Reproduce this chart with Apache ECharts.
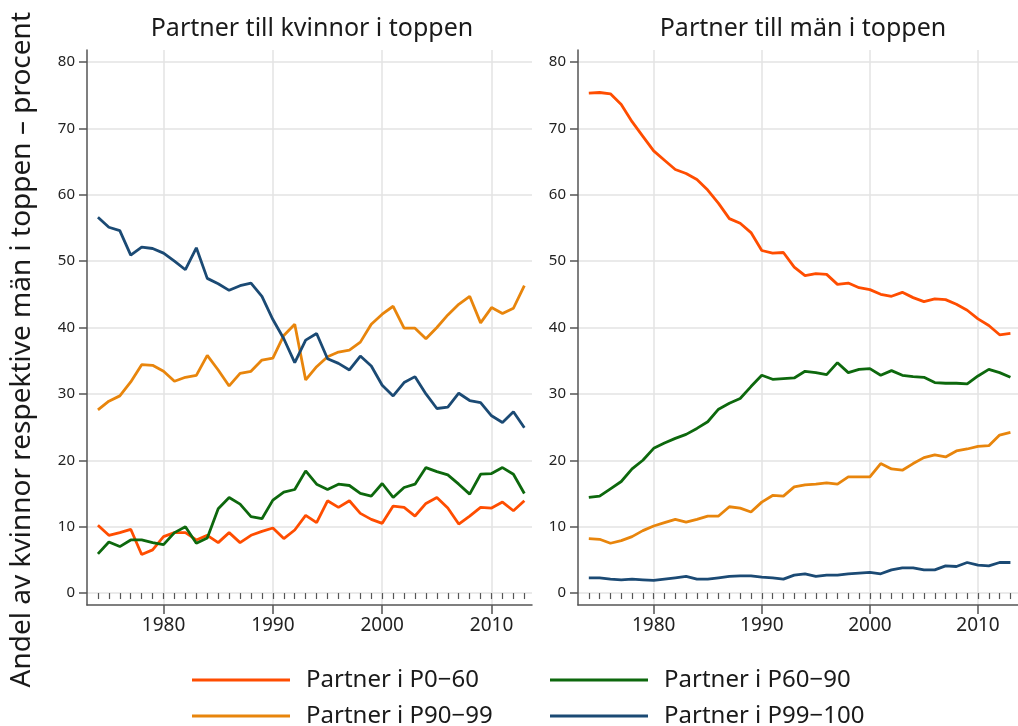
<!DOCTYPE html>
<html>
<head>
<meta charset="utf-8">
<script src="https://cdn.jsdelivr.net/npm/echarts@6/dist/echarts.min.js"></script>
<style>
  html, body { margin: 0; padding: 0; background: #fff; }
  #chart { width: 1018px; height: 726px; }
</style>
</head>
<body>
<div id="chart"></div>
<script>
// years
var years = [1974, 1975, 1976, 1977, 1978, 1979, 1980, 1981, 1982, 1983,
	1984, 1985, 1986, 1987, 1988, 1989, 1990, 1991, 1992, 1993,
	1994, 1995, 1996, 1997, 1998, 1999, 2000, 2001, 2002, 2003,
	2004, 2005, 2006, 2007, 2008, 2009, 2010, 2011, 2012, 2013];

var yTicks = [0, 10, 20, 30, 40, 50, 60, 70, 80];
var xLabels = [1980, 1990, 2000, 2010];

var seriesNames = ['Partner i P0\u221260', 'Partner i P60\u221290', 'Partner i P90\u221299', 'Partner i P99\u2212100'];
var colors = ['#ff4d00', '#0d680d', '#e8850c', '#1b4a74'];
var titles = ['Partner till kvinnor i toppen', 'Partner till m\u00e4n i toppen'];

// Partner till kvinnor i toppen
var womenP0_60 = [10.2, 8.7, 9.1, 9.6, 5.8, 6.5, 8.5, 9.1, 9.1, 8.0,
	8.7, 7.6, 9.1, 7.6, 8.7, 9.3, 9.8, 8.2, 9.5, 11.7,
	10.6, 13.9, 12.9, 13.9, 12.0, 11.1, 10.5, 13.1, 12.9, 11.6,
	13.5, 14.4, 12.8, 10.4, 11.6, 12.9, 12.8, 13.7, 12.4, 13.9];
var womenP60_90 = [5.9, 7.7, 7.0, 8.0, 8.0, 7.6, 7.3, 9.1, 10.0, 7.5,
	8.3, 12.7, 14.4, 13.4, 11.5, 11.2, 14.0, 15.2, 15.6, 18.4,
	16.4, 15.6, 16.4, 16.2, 15.0, 14.6, 16.5, 14.4, 15.9, 16.4,
	18.9, 18.3, 17.8, 16.4, 14.9, 17.9, 18.0, 18.9, 17.9, 15.0];
var womenP90_99 = [27.6, 28.9, 29.7, 31.8, 34.4, 34.3, 33.4, 31.9, 32.5, 32.8,
	35.8, 33.6, 31.2, 33.1, 33.4, 35.1, 35.4, 38.8, 40.5, 32.1,
	34.1, 35.6, 36.3, 36.6, 37.8, 40.5, 42.0, 43.2, 39.9, 39.9,
	38.3, 40.0, 41.9, 43.5, 44.7, 40.7, 43.0, 42.1, 42.9, 46.3];
var womenP99_100 = [56.6, 55.1, 54.6, 50.9, 52.1, 51.9, 51.2, 50.0, 48.7, 52.0,
	47.4, 46.6, 45.6, 46.3, 46.7, 44.7, 41.2, 38.3, 34.7, 38.1,
	39.1, 35.3, 34.6, 33.6, 35.7, 34.2, 31.3, 29.7, 31.7, 32.6,
	30.0, 27.8, 28.0, 30.1, 29.0, 28.7, 26.7, 25.7, 27.3, 24.9];

// Partner till män i toppen
var menP0_60 = [75.3, 75.4, 75.2, 73.6, 71.0, 68.8, 66.6, 65.2, 63.8, 63.2,
	62.3, 60.7, 58.7, 56.4, 55.7, 54.3, 51.6, 51.2, 51.3, 49.1,
	47.8, 48.1, 48.0, 46.5, 46.7, 46.0, 45.7, 45.0, 44.7, 45.3,
	44.5, 43.9, 44.3, 44.2, 43.5, 42.6, 41.3, 40.3, 38.9, 39.1];
var menP60_90 = [14.4, 14.6, 15.7, 16.8, 18.7, 20.0, 21.8, 22.6, 23.3, 23.9,
	24.8, 25.8, 27.7, 28.6, 29.3, 31.1, 32.8, 32.2, 32.3, 32.4,
	33.4, 33.2, 32.9, 34.7, 33.2, 33.7, 33.8, 32.8, 33.5, 32.8,
	32.6, 32.5, 31.7, 31.6, 31.6, 31.5, 32.7, 33.7, 33.2, 32.5];
var menP90_99 = [8.2, 8.1, 7.5, 7.9, 8.5, 9.4, 10.1, 10.6, 11.1, 10.7,
	11.1, 11.6, 11.6, 13.0, 12.8, 12.2, 13.7, 14.7, 14.6, 16.0,
	16.3, 16.4, 16.6, 16.4, 17.5, 17.5, 17.5, 19.5, 18.7, 18.5,
	19.5, 20.4, 20.8, 20.5, 21.4, 21.7, 22.1, 22.2, 23.8, 24.2];
var menP99_100 = [2.3, 2.3, 2.1, 2.0, 2.1, 2.0, 1.9, 2.1, 2.3, 2.5,
	2.1, 2.1, 2.3, 2.5, 2.6, 2.6, 2.4, 2.3, 2.1, 2.7,
	2.9, 2.5, 2.7, 2.7, 2.9, 3.0, 3.1, 2.9, 3.5, 3.8,
	3.8, 3.5, 3.5, 4.1, 4.0, 4.6, 4.2, 4.1, 4.6, 4.6];

var panels = [
	[womenP0_60, womenP60_90, womenP90_99, womenP99_100],
	[menP0_60, menP60_90, menP90_99, menP99_100]
];

var FONT = 'Noto Sans';
var chart = echarts.init(document.getElementById('chart'), null, {renderer: 'canvas'});

function pairs(values) {
	return years.map(function (y, i) { return [y, values[i]]; });
}

var grids = [
	{left: 87, top: 50, width: 445, height: 555},
	{left: 578, top: 50, width: 445, height: 555}
];

var xAxes = [], yAxes = [], series = [], titleList = [];
grids.forEach(function (g, gi) {
	xAxes.push({
		gridIndex: gi, type: 'value', min: 1973, max: 2013.7,
		axisLine: {show: true, onZero: false, lineStyle: {color: '#555', width: 1.5}},
		axisTick: {show: true, length: 9, customValues: xLabels, lineStyle: {color: '#555', width: 1.5}},
		axisLabel: {
			customValues: xLabels, fontFamily: FONT, fontSize: 19, color: '#222', margin: 11,
			formatter: function (v) { return String(v); }
		},
		splitLine: {show: true, lineStyle: {color: '#e3e3e3', width: 1.5}}
	});
	xAxes.push({
		gridIndex: gi, type: 'value', min: 1973, max: 2013.7, position: 'bottom',
		axisLine: {show: false},
		axisTick: {show: true, length: 6, customValues: years, lineStyle: {color: '#555', width: 1.2}},
		axisLabel: {show: false},
		splitLine: {show: false}
	});
	yAxes.push({
		gridIndex: gi, type: 'value', min: -1.8, max: 81.8,
		axisLine: {show: true, onZero: false, lineStyle: {color: '#555', width: 1.5}},
		axisTick: {show: true, length: 8, customValues: yTicks, lineStyle: {color: '#555', width: 1.5}},
		axisLabel: {customValues: yTicks, fontFamily: FONT, fontSize: 15, color: '#222', margin: 12},
		splitLine: {show: true, lineStyle: {color: '#e3e3e3', width: 1.5}}
	});
	panels[gi].forEach(function (vals, si) {
		series.push({
			name: seriesNames[si],
			type: 'line',
			xAxisIndex: gi * 2,
			yAxisIndex: gi,
			data: pairs(vals),
			symbol: 'none',
			color: colors[si],
			lineStyle: {width: 2.8, color: colors[si]},
			animation: false,
			z: 3
		});
	});
	titleList.push({
		text: titles[gi],
		left: g.left + 220,
		top: 11,
		textAlign: 'center',
		textStyle: {fontFamily: FONT, fontSize: 25, fontWeight: 'normal', color: '#1a1a1a'}
	});
});

// one legend per entry so the two-by-two layout is fixed
var legendPos = [[192, 666], [550, 666], [192, 702], [550, 702]];
var legendOrder = [0, 1, 2, 3];
var legends = legendOrder.map(function (si, k) {
	return {
		left: legendPos[k][0],
		top: legendPos[k][1],
		padding: 0,
		icon: 'rect',
		itemWidth: 98,
		itemHeight: 3,
		selectedMode: false,
		data: [seriesNames[si]],
		textStyle: {fontFamily: FONT, fontSize: 24, color: '#1a1a1a', lineHeight: 28, padding: [0, 0, 0, 11]}
	};
});

var option = {
	backgroundColor: '#fff',
	animation: false,
	title: titleList,
	grid: grids,
	xAxis: xAxes,
	yAxis: yAxes,
	legend: legends,
	graphic: [{
		type: 'text',
		left: 8,
		top: 12,
		rotation: Math.PI / 2,
		style: {
			text: 'Andel av kvinnor respektive m\u00e4n i toppen \u2013 procent',
			font: '28px "Noto Sans"',
			fill: '#1a1a1a'
		}
	}],
	series: series
};
chart.setOption(option);
</script>
</body>
</html>
